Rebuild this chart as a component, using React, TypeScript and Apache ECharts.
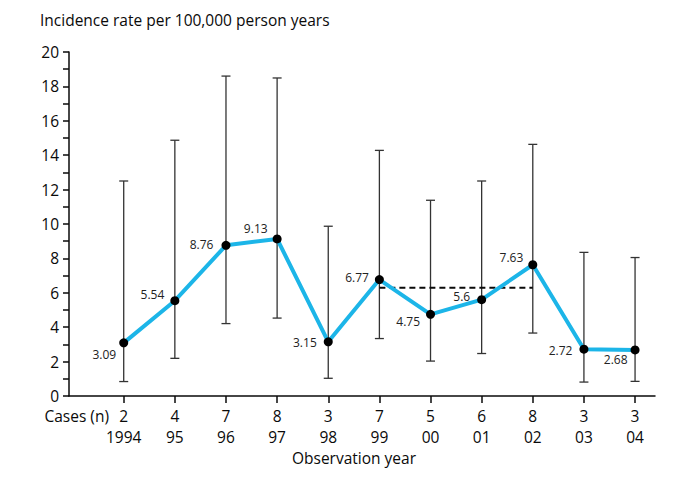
import React, { useEffect, useRef } from "react";
import * as echarts from "echarts";

const years = ["1994", "95", "96", "97", "98", "99", "00", "01", "02", "03", "04"];
const cases = [2, 4, 7, 8, 3, 7, 5, 6, 8, 3, 3];
const rates = [3.09, 5.54, 8.76, 9.13, 3.15, 6.77, 4.75, 5.6, 7.63, 2.72, 2.68];
const ciLow = [0.84, 2.19, 4.21, 4.53, 1.03, 3.34, 2.03, 2.47, 3.66, 0.81, 0.85];
const ciHigh = [12.5, 14.87, 18.6, 18.49, 9.87, 14.28, 11.38, 12.5, 14.63, 8.35, 8.05];
const refLevel = 6.3;
const refFrom = 5;
const refTo = 8;
const yTicks = [0, 2, 4, 6, 8, 10, 12, 14, 16, 18, 20];

// label offsets (style only)
const labelOffsets = [
  [2, 12], [-1, -6], [-3, -1], [0, -10], [-2, 1], [-1, -2],
  [-1, 7], [-2, -3], [0, -7], [-2, 1], [2, 10],
];

const FONT = "Open Sans";
const FS = 15.5;
const INK = "#0a0a0a";

export default function App() {
  const ref = useRef<HTMLDivElement>(null);
  useEffect(() => {
    if (!ref.current) return;
    const chart = echarts.init(ref.current, undefined, { renderer: "svg" });
    const idx = years.map((_, i) => i);
    const option: any = {
      animation: false,
      backgroundColor: "#fff",
      textStyle: { fontFamily: FONT },
      grid: { left: 69, top: 52, width: 586, height: 344, containLabel: false },
      xAxis: {
        type: "value",
        min: -1.07,
        max: 10.39,
        splitLine: { show: false },
        axisLine: { show: true, onZero: false, lineStyle: { color: INK, width: 1.5 } },
        axisTick: {
          show: true,
          length: 7,
          customValues: idx,
          lineStyle: { color: INK, width: 1.5 },
        },
        axisLabel: {
          show: true,
          customValues: idx,
          margin: 9,
          fontSize: FS,
          lineHeight: 21,
          color: INK,
          fontFamily: FONT,
          formatter: (v: number) => {
            const i = Math.round(v);
            return cases[i] + "\n" + years[i];
          },
        },
      },
      yAxis: {
        type: "value",
        min: 0,
        max: 20,
        interval: 1,
        splitLine: { show: false },
        axisLine: { show: true, onZero: false, lineStyle: { color: INK, width: 1.5 } },
        axisTick: { show: true, length: 6, lineStyle: { color: INK, width: 1.5 } },
        axisLabel: {
          margin: 10,
          fontSize: FS,
          lineHeight: 16,
          color: INK,
          fontFamily: FONT,
          formatter: (v: number) => (yTicks.indexOf(v) >= 0 ? String(v) : ""),
        },
      },
      graphic: [
        {
          type: "text",
          left: 40,
          top: 12,
          style: { text: "Incidence rate per 100,000 person years", fontSize: FS, fontFamily: FONT, fill: INK },
        },
        {
          type: "text",
          x: 109,
          y: 416,
          style: {
            text: "Cases (n)",
            fontSize: FS,
            lineHeight: 16,
            fontFamily: FONT,
            fill: INK,
            align: "right",
            verticalAlign: "middle",
          },
        },
        {
          type: "text",
          x: 354,
          y: 458,
          style: {
            text: "Observation year",
            fontSize: FS,
            lineHeight: 16,
            fontFamily: FONT,
            fill: INK,
            align: "center",
            verticalAlign: "middle",
          },
        },
      ],
      series: [
        {
          type: "custom",
          name: "CI",
          z: 1,
          data: idx.map((i) => [i, ciLow[i], ciHigh[i]]),
          renderItem: (params: any, api: any) => {
            const x = api.value(0);
            const lo = api.coord([x, api.value(1)]);
            const hi = api.coord([x, api.value(2)]);
            const hw = 4.5;
            const st = { stroke: "#333", lineWidth: 1.3 };
            return {
              type: "group",
              children: [
                { type: "line", shape: { x1: hi[0], y1: hi[1], x2: lo[0], y2: lo[1] }, style: st },
                { type: "line", shape: { x1: hi[0] - hw, y1: hi[1], x2: hi[0] + hw, y2: hi[1] }, style: st },
                { type: "line", shape: { x1: lo[0] - hw, y1: lo[1], x2: lo[0] + hw, y2: lo[1] }, style: st },
              ],
            };
          },
        },
        {
          type: "line",
          name: "ref",
          z: 2,
          symbol: "none",
          data: [[refFrom, refLevel], [refTo, refLevel]],
          lineStyle: { color: INK, width: 2, type: [6, 4] },
          silent: true,
        },
        {
          type: "line",
          name: "rate",
          z: 3,
          data: idx.map((i) => ({
            value: [i, rates[i]],
            label: { offset: labelOffsets[i] },
          })),
          symbol: "circle",
          symbolSize: 9,
          itemStyle: { color: "#000" },
          lineStyle: { color: "#1cb5e8", width: 4 },
          label: {
            show: true,
            position: "left",
            distance: 5,
            fontSize: 12,
            fontFamily: FONT,
            color: "#222",
            formatter: (p: any) => String(rates[p.dataIndex]),
          },
        },
      ],
    };
    chart.setOption(option);
    return () => chart.dispose();
  }, []);
  return (
    <div
      ref={ref}
      style={{ position: "fixed", left: 0, top: 0, width: 685, height: 486, background: "#fff" }}
    />
  );
}
